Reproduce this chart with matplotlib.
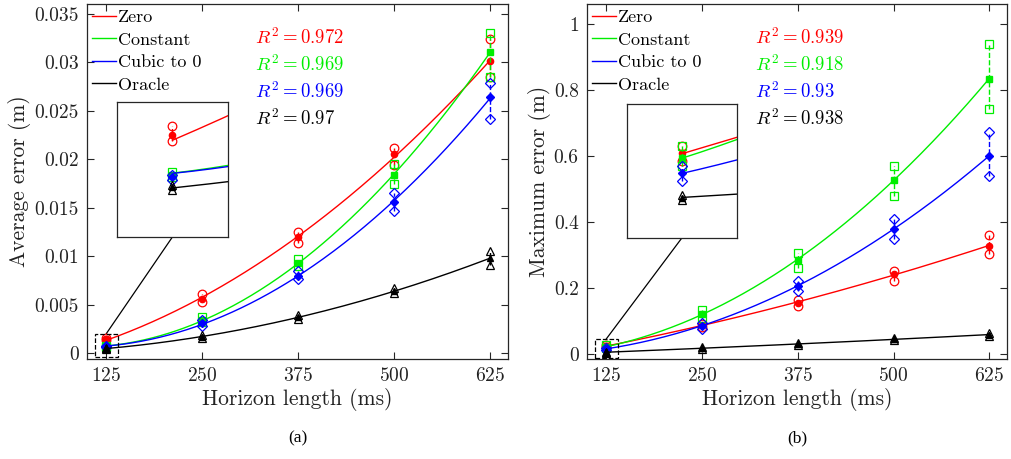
import numpy as np
import matplotlib
matplotlib.use('Agg')
import matplotlib.pyplot as plt
from matplotlib.patches import Rectangle, ConnectionPatch

plt.rcParams['font.family'] = 'cmr10'
plt.rcParams['mathtext.fontset'] = 'cm'
plt.rcParams['axes.formatter.use_mathtext'] = True
plt.rcParams['axes.unicode_minus'] = False

# horizon lengths (ms)
horizon = [125, 250, 375, 500, 625]
methods = ['Zero', 'Constant', 'Cubic to 0', 'Oracle']

# (a) average error (m): mean, upper and lower open markers
avg_zero = [0.00142, 0.0056, 0.0120, 0.0205, 0.0301]
avg_zero_hi = [0.00157, 0.0061, 0.0125, 0.0212, 0.0324]
avg_zero_lo = [0.00131, 0.0053, 0.0114, 0.0194, 0.0285]
avg_const = [0.00070, 0.0034, 0.0093, 0.0184, 0.0311]
avg_const_hi = [0.00075, 0.0037, 0.0097, 0.0195, 0.0330]
avg_const_lo = [0.00066, 0.0032, 0.0090, 0.0174, 0.0285]
avg_cubic = [0.00066, 0.0031, 0.0080, 0.0156, 0.0264]
avg_cubic_hi = [0.00071, 0.0034, 0.0085, 0.0165, 0.0279]
avg_cubic_lo = [0.00061, 0.0028, 0.0076, 0.0147, 0.0242]
avg_oracle = [0.00048, 0.0017, 0.0037, 0.0064, 0.0098]
avg_oracle_hi = [0.00053, 0.0019, 0.0039, 0.0067, 0.0105]
avg_oracle_lo = [0.00044, 0.0016, 0.0035, 0.0062, 0.0091]
avg_r2 = ['0.972', '0.969', '0.969', '0.97']

# (b) maximum error (m)
max_zero = [0.024, 0.087, 0.155, 0.242, 0.328]
max_zero_hi = [0.027, 0.092, 0.165, 0.252, 0.362]
max_zero_lo = [0.021, 0.083, 0.146, 0.222, 0.304]
max_const = [0.022, 0.120, 0.285, 0.528, 0.834]
max_const_hi = [0.027, 0.132, 0.305, 0.570, 0.940]
max_const_lo = [0.0186, 0.108, 0.260, 0.478, 0.743]
max_cubic = [0.0156, 0.086, 0.205, 0.380, 0.600]
max_cubic_hi = [0.0186, 0.094, 0.220, 0.410, 0.673]
max_cubic_lo = [0.0122, 0.075, 0.192, 0.347, 0.540]
max_oracle = [0.005, 0.018, 0.030, 0.044, 0.059]
max_oracle_hi = [0.0063, 0.020, 0.032, 0.047, 0.063]
max_oracle_lo = [0.0042, 0.016, 0.028, 0.042, 0.055]
max_r2 = ['0.939', '0.918', '0.93', '0.938']

avg_ticks = [0, 0.005, 0.01, 0.015, 0.02, 0.025, 0.03, 0.035]
avg_ticklabels = ['0', '0.005', '0.01', '0.015', '0.02', '0.025', '0.03', '0.035']
max_ticks = [0, 0.2, 0.4, 0.6, 0.8, 1]
max_ticklabels = ['0', '0.2', '0.4', '0.6', '0.8', '1']

colors = ['#ff0000', '#00ee00', '#0000ff', 'black']
markers = ['o', 's', 'D', '^']
spine_col = '#262626'


def draw_series(ax, series):
    xs = np.array(horizon, dtype=float)
    xf = np.linspace(125, 625, 300)
    for (m, hi, lo), c, mk in zip(series, colors, markers):
        coef = np.polyfit(xs, m, 2)
        ax.plot(xf, np.polyval(coef, xf), color=c, lw=1)
        for x, a, b in zip(xs, hi, lo):
            ax.plot([x, x], [b, a], '--', color=c, lw=1)
        ms_open = 6.2 if mk != 'D' else 5.0
        ax.plot(xs, hi, mk, mfc='none', mec=c, ms=ms_open, mew=0.9, ls='none')
        ax.plot(xs, lo, mk, mfc='none', mec=c, ms=ms_open, mew=0.9, ls='none')
        ax.plot(xs, m, mk, color=c, ms=4.5 if mk != 'D' else 3.8, ls='none')


def style_axes(ax):
    for s in ax.spines.values():
        s.set_color(spine_col)
        s.set_linewidth(0.9)
    ax.tick_params(direction='in', length=5, width=0.8, top=True, right=True,
                   labelsize=14, colors=spine_col, labelcolor='#222222', pad=6)


def panel(ax, series, r2, ylim, ticks, ticklabels, ylabel, zoom, inset_pos, caption):
    draw_series(ax, series)
    ax.set_xlim(100, 648)
    ax.set_ylim(*ylim)
    ax.set_xticks(horizon)
    ax.set_yticks(ticks)
    ax.set_yticklabels(ticklabels)
    style_axes(ax)
    ax.set_xlabel('Horizon length (ms)', fontsize=15.5, color='#222222', labelpad=2)
    ax.set_ylabel(ylabel, fontsize=15.5, color='#222222', labelpad=2)

    hs = [ax.plot([], [], color=c, lw=1)[0] for c in colors]
    ax.legend(hs, methods, loc='upper left', frameon=False, fontsize=13,
              handlelength=1.3, handletextpad=0.1, labelspacing=0.38,
              borderaxespad=0.2, borderpad=0.1)

    for i, (val, c) in enumerate(zip(r2, colors)):
        ax.text(0.40, 0.907 - i * 0.076, r'$R^2 = ' + val + '$', color=c,
                fontsize=13.5, transform=ax.transAxes, va='center')

    x0, x1, y0, y1 = zoom
    ax.add_patch(Rectangle((x0, y0), x1 - x0, y1 - y0, fill=False, ls='--',
                           lw=0.9, ec='black', zorder=6))
    axins = ax.inset_axes(inset_pos)
    draw_series(axins, series)
    axins.set_xlim(x0, x1)
    axins.set_ylim(y0, y1)
    axins.set_xticks([])
    axins.set_yticks([])
    for s in axins.spines.values():
        s.set_color(spine_col)
        s.set_linewidth(0.9)
    con = ConnectionPatch(xyA=((x0 + x1) / 2, y1), coordsA=ax.transData,
                          xyB=(0.5, 0), coordsB=axins.transAxes,
                          color='black', lw=0.9)
    ax.add_artist(con)

    ax.text(0.5, -0.225, caption, transform=ax.transAxes, ha='center',
            va='center', fontsize=12.5, family='Liberation Serif')


fig = plt.figure(figsize=(10.12, 4.59), dpi=100)
ax1 = fig.add_axes([0.086, 0.218, 0.416, 0.773])
ax2 = fig.add_axes([0.580, 0.218, 0.415, 0.773])

series_avg = [(avg_zero, avg_zero_hi, avg_zero_lo),
              (avg_const, avg_const_hi, avg_const_lo),
              (avg_cubic, avg_cubic_hi, avg_cubic_lo),
              (avg_oracle, avg_oracle_hi, avg_oracle_lo)]
series_max = [(max_zero, max_zero_hi, max_zero_lo),
              (max_const, max_const_hi, max_const_lo),
              (max_cubic, max_cubic_hi, max_cubic_lo),
              (max_oracle, max_oracle_hi, max_oracle_lo)]

panel(ax1, series_avg, avg_r2, (-0.0006, 0.036), avg_ticks, avg_ticklabels,
      'Average error (m)', (110, 140, -0.0004, 0.002),
      [0.071, 0.344, 0.264, 0.380], '(a)')
panel(ax2, series_max, max_r2, (-0.015, 1.06), max_ticks, max_ticklabels,
      'Maximum error (m)', (110, 140, -0.012, 0.045),
      [0.095, 0.341, 0.262, 0.377], '(b)')

fig.savefig('out.png', dpi=100)
